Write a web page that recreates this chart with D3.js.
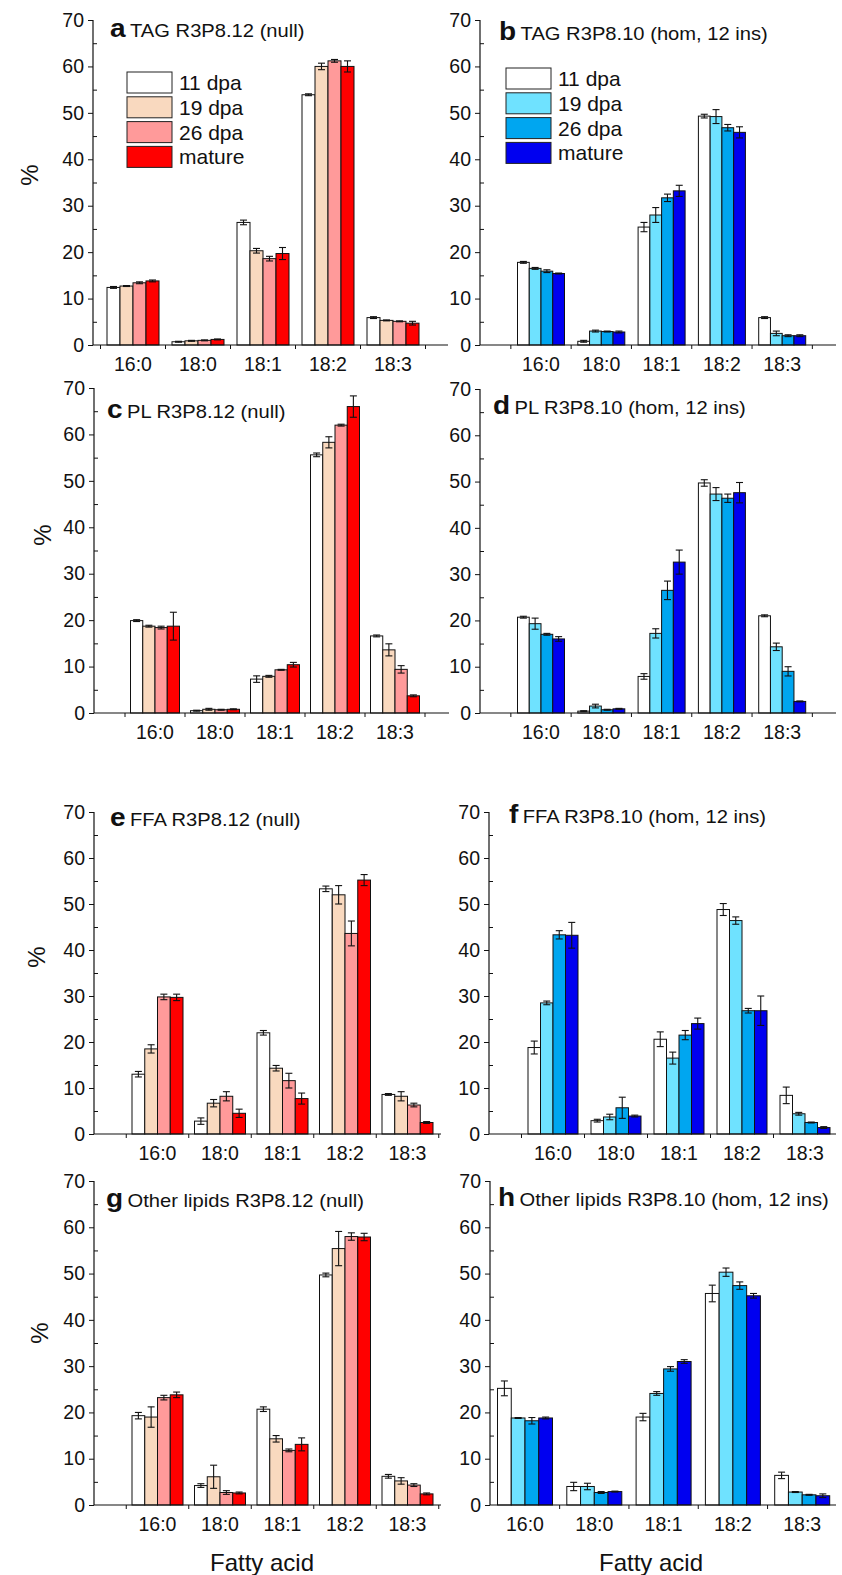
<!DOCTYPE html>
<html>
<head>
<meta charset="utf-8">
<script src="https://cdn.jsdelivr.net/npm/d3@7"></script>
<style>
	body { margin: 0; background: #fff; }
	svg { display: block; font-family: Arial, "Liberation Sans", sans-serif; }
</style>
</head>
<body>
<div id="chart"></div>
<script>
	// categories and series
	var categories = ['16:0', '18:0', '18:1', '18:2', '18:3'];
	var stages = ['11 dpa', '19 dpa', '26 dpa', 'mature'];
	var redColors = ['#ffffff', '#f9d9bf', '#ff9a9a', '#ff0000'];
	var blueColors = ['#ffffff', '#6fe2ff', '#00a6f0', '#0000f0'];
	var yTicks = [0, 10, 20, 30, 40, 50, 60, 70];

	// values: one row per fatty acid, one column per stage
	var tagNull = [[12.4, 12.7, 13.4, 13.8], [0.7, 0.9, 1.0, 1.2], [26.4, 20.3, 18.6, 19.7], [53.9, 60.0, 61.2, 60.0], [5.9, 5.3, 5.1, 4.7]];
	var tagNullErr = [[0.2, 0.1, 0.2, 0.2], [0.1, 0.1, 0.1, 0.1], [0.5, 0.5, 0.5, 1.3], [0.2, 0.7, 0.3, 1.2], [0.2, 0.1, 0.1, 0.4]];
	var tagHom = [[17.8, 16.5, 15.9, 15.4], [0.8, 3.0, 2.9, 2.8], [25.4, 28.0, 31.7, 33.2], [49.3, 49.2, 46.8, 45.8], [5.9, 2.5, 2.0, 2.0]];
	var tagHomErr = [[0.2, 0.2, 0.3, 0.1], [0.2, 0.2, 0.1, 0.2], [1.0, 1.6, 0.8, 1.2], [0.4, 1.5, 0.7, 1.2], [0.2, 0.5, 0.2, 0.2]];
	var plNull = [[19.9, 18.7, 18.4, 18.7], [0.5, 0.8, 0.7, 0.8], [7.3, 7.9, 9.3, 10.4], [55.6, 58.3, 62.0, 66.0], [16.6, 13.6, 9.4, 3.7]];
	var plNullErr = [[0.2, 0.2, 0.3, 3.0], [0.1, 0.2, 0.1, 0.1], [0.7, 0.2, 0.1, 0.5], [0.4, 1.2, 0.2, 2.3], [0.2, 1.3, 0.8, 0.2]];
	var plHom = [[20.7, 19.3, 17.0, 16.0], [0.4, 1.5, 0.7, 0.9], [7.9, 17.2, 26.5, 32.6], [49.7, 47.3, 46.4, 47.6], [21.0, 14.3, 9.0, 2.5]];
	var plHomErr = [[0.2, 1.2, 0.2, 0.5], [0.1, 0.4, 0.1, 0.1], [0.6, 1.0, 2.0, 2.6], [0.7, 1.4, 0.9, 2.2], [0.2, 0.8, 1.0, 0.1]];
	var ffaNull = [[13.0, 18.5, 29.8, 29.7], [2.8, 6.7, 8.2, 4.5], [22.0, 14.3, 11.6, 7.7], [53.3, 52.0, 43.6, 55.2], [8.6, 8.2, 6.3, 2.5]];
	var ffaNullErr = [[0.6, 0.9, 0.6, 0.7], [0.7, 0.8, 1.0, 0.9], [0.5, 0.6, 1.6, 1.2], [0.6, 2.0, 2.7, 1.2], [0.2, 1.0, 0.4, 0.2]];
	var ffaHom = [[18.8, 28.5, 43.3, 43.2], [2.9, 3.7, 5.7, 3.9], [20.6, 16.5, 21.5, 24.0], [48.8, 46.4, 26.8, 26.8], [8.4, 4.4, 2.5, 1.4]];
	var ffaHomErr = [[1.4, 0.4, 0.9, 2.8], [0.3, 0.6, 2.3, 0.2], [1.6, 1.3, 1.0, 1.2], [1.3, 0.8, 0.5, 3.2], [1.8, 0.3, 0.1, 0.2]];
	var otherNull = [[19.3, 19.0, 23.2, 23.8], [4.2, 6.1, 2.7, 2.6], [20.7, 14.3, 11.8, 13.1], [49.7, 55.4, 58.0, 57.9], [6.2, 5.2, 4.3, 2.4]];
	var otherNullErr = [[0.7, 2.2, 0.5, 0.6], [0.4, 2.5, 0.4, 0.2], [0.5, 0.7, 0.3, 1.4], [0.4, 3.7, 0.8, 0.8], [0.4, 0.7, 0.3, 0.2]];
	var otherHom = [[25.2, 18.8, 18.2, 18.8], [4.0, 4.0, 2.7, 2.9], [19.0, 24.1, 29.4, 31.0], [45.7, 50.3, 47.4, 45.2], [6.4, 2.8, 2.2, 2.0]];
	var otherHomErr = [[1.6, 0.1, 0.7, 0.2], [0.9, 0.7, 0.2, 0.1], [0.8, 0.4, 0.5, 0.4], [1.8, 0.9, 0.8, 0.5], [0.7, 0.1, 0.1, 0.4]];

	// panel layout (geometry only)
	var panels = [
		{ letter: 'a', title: 'TAG R3P8.12 (null)', values: tagNull, errs: tagNullErr, colors: redColors,
			x0: 93, x1: 448, c0: 133, step: 65, gw: 52, yTop: 20, yBot: 345, tx: 17, ty: 17, pct: [30, 175], legend: [127, 72] },
		{ letter: 'b', title: 'TAG R3P8.10 (hom, 12 ins)', values: tagHom, errs: tagHomErr, colors: blueColors,
			x0: 480, x1: 836, c0: 541, step: 60.3, gw: 47, yTop: 20, yBot: 345, tx: 19, ty: 20, legend: [506, 68] },
		{ letter: 'c', title: 'PL R3P8.12 (null)', values: plNull, errs: plNullErr, colors: redColors,
			x0: 94, x1: 449, c0: 155, step: 60, gw: 49, yTop: 388, yBot: 713, tx: 13, ty: 30, pct: [43, 535] },
		{ letter: 'd', title: 'PL R3P8.10 (hom, 12 ins)', values: plHom, errs: plHomErr, colors: blueColors,
			x0: 480, x1: 836, c0: 541, step: 60.3, gw: 47, yTop: 389, yBot: 713, tx: 13, ty: 25 },
		{ letter: 'e', title: 'FFA R3P8.12 (null)', values: ffaNull, errs: ffaNullErr, colors: redColors,
			x0: 94, x1: 441, c0: 157.5, step: 62.5, gw: 51, yTop: 812, yBot: 1134, tx: 16, ty: 14, pct: [37, 957] },
		{ letter: 'f', title: 'FFA R3P8.10 (hom, 12 ins)', values: ffaHom, errs: ffaHomErr, colors: blueColors,
			x0: 489, x1: 836, c0: 553, step: 63, gw: 50, yTop: 812, yBot: 1134, tx: 20, ty: 11 },
		{ letter: 'g', title: 'Other lipids R3P8.12 (null)', values: otherNull, errs: otherNullErr, colors: redColors,
			x0: 94, x1: 441, c0: 157.5, step: 62.5, gw: 51, yTop: 1181, yBot: 1505, tx: 12, ty: 26, pct: [40, 1333], xTitle: 262 },
		{ letter: 'h', title: 'Other lipids R3P8.10 (hom, 12 ins)', values: otherHom, errs: otherHomErr, colors: blueColors,
			x0: 490, x1: 836, c0: 525, step: 69.3, gw: 55, yTop: 1181, yBot: 1505, tx: 8, ty: 25, xTitle: 651 }
	];

	var width = 842, height = 1575;
	var svg = d3.select('#chart').append('svg')
		.attr('width', width).attr('height', height);

	panels.forEach(drawPanel);

	function drawPanel(p) {
		var g = svg.append('g');
		var x = d3.scaleLinear().domain([0, 4]).range([p.c0, p.c0 + 4 * p.step]);
		var y = d3.scaleLinear().domain([0, 70]).range([p.yBot, p.yTop]);
		var inner = d3.scaleBand().domain(stages).range([-p.gw / 2, p.gw / 2]);

		// bars
		var groups = g.selectAll('g.cat')
			.data(categories)
			.enter().append('g')
			.attr('class', 'cat')
			.attr('transform', (d, i) => 'translate(' + x(i) + ',0)');

		groups.selectAll('rect')
			.data((d, i) => p.values[i].map((v, j) => ({ v: v, e: p.errs[i][j], s: stages[j], j: j })))
			.enter().append('rect')
			.attr('x', d => inner(d.s))
			.attr('width', inner.bandwidth())
			.attr('y', d => y(d.v))
			.attr('height', d => y(0) - y(d.v))
			.attr('fill', d => p.colors[d.j])
			.attr('stroke', '#111')
			.attr('stroke-width', 1);

		// error bars
		var err = groups.selectAll('g.err')
			.data((d, i) => p.values[i].map((v, j) => ({ v: v, e: p.errs[i][j], s: stages[j] })))
			.enter().append('g')
			.attr('class', 'err')
			.attr('stroke', '#111')
			.attr('stroke-width', 1.1);
		var cx = d => inner(d.s) + inner.bandwidth() / 2;
		err.append('line')
			.attr('x1', cx).attr('x2', cx)
			.attr('y1', d => y(d.v - d.e)).attr('y2', d => y(d.v + d.e));
		[-1, 1].forEach(sign => {
			err.append('line')
				.attr('x1', d => cx(d) - 3.5).attr('x2', d => cx(d) + 3.5)
				.attr('y1', d => y(d.v + sign * d.e)).attr('y2', d => y(d.v + sign * d.e));
		});

		// y axis
		var yAxis = d3.axisLeft(y).tickValues(yTicks).tickSize(5).tickPadding(4);
		var ya = g.append('g')
			.attr('transform', 'translate(' + p.x0 + ',0)')
			.call(yAxis);
		ya.select('.domain').remove();
		ya.selectAll('text').attr('font-size', 19.5).attr('fill', '#111');
		ya.selectAll('line').attr('stroke', '#111');
		g.append('g')
			.attr('transform', 'translate(' + p.x0 + ',0)')
			.call(d3.axisRight(y).tickValues(d3.range(5, 70, 10)).tickSize(4).tickFormat(''))
			.call(s => s.select('.domain').remove())
			.selectAll('line').attr('stroke', '#111');
		g.append('line')
			.attr('x1', p.x0).attr('x2', p.x0)
			.attr('y1', y(0)).attr('y2', y(70))
			.attr('stroke', '#111').attr('stroke-width', 1.2);

		// x axis
		g.append('line')
			.attr('x1', p.x0).attr('x2', p.x1)
			.attr('y1', y(0)).attr('y2', y(0))
			.attr('stroke', '#111').attr('stroke-width', 1.2);
		g.selectAll('line.xtick')
			.data(d3.range(-0.5, 5, 1).filter(t => x(t) > p.x0 + 2 && x(t) < p.x1))
			.enter().append('line')
			.attr('class', 'xtick')
			.attr('x1', d => x(d)).attr('x2', d => x(d))
			.attr('y1', y(0)).attr('y2', y(0) + 4)
			.attr('stroke', '#111');
		g.selectAll('text.xlab')
			.data(categories)
			.enter().append('text')
			.attr('class', 'xlab')
			.attr('x', (d, i) => x(i))
			.attr('y', y(0) + 26)
			.attr('text-anchor', 'middle')
			.attr('font-size', 19.5)
			.attr('fill', '#111')
			.text(d => d);

		// panel title (slightly widened like the original figure)
		var t = g.append('text')
			.attr('transform', 'translate(' + (p.x0 + p.tx) + ',' + (p.yTop + p.ty) + ') scale(1.12,1)')
			.attr('fill', '#111');
		t.append('tspan').attr('font-size', 25).attr('font-weight', 'bold').text(p.letter);
		t.append('tspan').attr('font-size', 18).attr('dx', 4).text(p.title);

		if (p.pct) {
			g.append('text')
				.attr('transform', 'translate(' + p.pct[0] + ',' + p.pct[1] + ') rotate(-90)')
				.attr('text-anchor', 'middle')
				.attr('dy', '0.35em')
				.attr('font-size', 24)
				.attr('fill', '#111')
				.text('%');
		}

		if (p.xTitle) {
			g.append('text')
				.attr('x', p.xTitle)
				.attr('y', 1571)
				.attr('text-anchor', 'middle')
				.attr('font-size', 24)
				.attr('fill', '#111')
				.text('Fatty acid');
		}

		if (p.legend) {
			var lg = g.append('g')
				.attr('transform', 'translate(' + p.legend + ')');
			var items = lg.selectAll('g')
				.data(stages)
				.enter().append('g')
				.attr('transform', (d, i) => 'translate(0,' + i * 24.8 + ')');
			items.append('rect')
				.attr('width', 45).attr('height', 21)
				.attr('fill', (d, i) => p.colors[i])
				.attr('stroke', '#222').attr('stroke-width', 1);
			items.append('text')
				.attr('x', 52).attr('y', 10.5)
				.attr('dy', '0.36em')
				.attr('font-size', 21)
				.attr('fill', '#111')
				.text(d => d);
		}
	}
</script>
</body>
</html>
